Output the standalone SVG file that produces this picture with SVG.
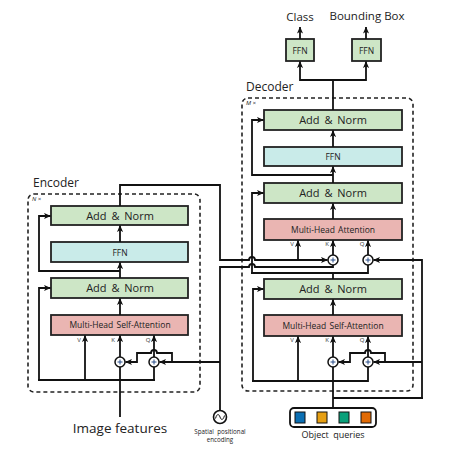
<svg xmlns="http://www.w3.org/2000/svg" width="451" height="457" viewBox="0 0 451 457">
<style>
text{font-family:"Open Sans","Noto Sans","Liberation Sans",sans-serif;fill:#222}
.box{stroke:#222;stroke-width:1.8}
.an{fill:#cde6c6}
.ffn{fill:#c9ebe9}
.att{fill:#eab5b2}
.lbl{font-size:11px;text-anchor:middle;word-spacing:2px}
.sm{font-size:8.5px;text-anchor:middle;word-spacing:1px}
.vkq{font-size:6px;text-anchor:middle;fill:#333}
.dash{fill:none;stroke:#222;stroke-width:1.6;stroke-dasharray:4 3}
.ln{fill:none;stroke:#111;stroke-width:1.8}
.ar{marker-end:url(#a)}
.plus circle{fill:#fff;stroke:#111;stroke-width:1.5}
.plus path{stroke:#2a4f8a;stroke-width:1}
</style>
<defs>
<marker id="a" viewBox="0 0 8 8" refX="7.5" refY="4" markerWidth="7" markerHeight="7" markerUnits="userSpaceOnUse" orient="auto">
<path d="M0,0.5 L8,4 L0,7.5 L2,4 z" fill="#111"/>
</marker>
</defs>

<g id="encoder">
<text x="33" y="187" font-size="12">Encoder</text>
<rect class="dash" x="28" y="194" width="172" height="198" rx="6"/>
<text x="32" y="201" font-size="6" font-style="italic" font-family="Liberation Serif,serif">N ×</text>
</g>
<g id="enc-addnorm2"><rect class="box an" x="51" y="206" width="137" height="19"/><text class="lbl" x="120" y="219.5">Add &amp; Norm</text></g>
<g id="enc-ffn"><rect class="box ffn" x="51" y="242" width="137" height="20"/><text class="sm" x="120" y="255.5" font-size="9.5">FFN</text></g>
<g id="enc-addnorm1"><rect class="box an" x="51" y="278" width="137" height="20"/><text class="lbl" x="120" y="292">Add &amp; Norm</text></g>
<g id="enc-mhsa"><rect class="box att" x="51" y="315" width="137" height="20"/><text class="sm" x="120" y="328">Multi-Head Self-Attention</text>
<text class="vkq" x="79" y="342">V</text><text class="vkq" x="113" y="342">K</text><text class="vkq" x="148" y="342">Q</text></g>
<g id="enc-plus-k" class="plus"><circle cx="120" cy="362" r="5"/><path d="M117.5,362H122.5M120,359.5V364.5"/></g>
<g id="enc-plus-q" class="plus"><circle cx="154" cy="362" r="5"/><path d="M151.5,362H156.5M154,359.5V364.5"/></g>

<g id="decoder">
<text x="246" y="91" font-size="12">Decoder</text>
<rect class="dash" x="242" y="98" width="171" height="293" rx="6"/>
<text x="246" y="105" font-size="6" font-style="italic" font-family="Liberation Serif,serif">M ×</text>
</g>
<g id="dec-addnorm3"><rect class="box an" x="264" y="110" width="138" height="20"/><text class="lbl" x="333" y="124">Add &amp; Norm</text></g>
<g id="dec-ffn"><rect class="box ffn" x="264" y="147" width="138" height="19"/><text class="sm" x="333" y="160" font-size="9.5">FFN</text></g>
<g id="dec-addnorm2"><rect class="box an" x="264" y="183" width="138" height="20"/><text class="lbl" x="333" y="197">Add &amp; Norm</text></g>
<g id="dec-mha"><rect class="box att" x="264" y="219" width="138" height="21"/><text class="sm" x="333" y="232.5">Multi-Head Attention</text>
<text class="vkq" x="292" y="246">V</text><text class="vkq" x="327" y="246">K</text><text class="vkq" x="362" y="246">Q</text></g>
<g id="dec-addnorm1"><rect class="box an" x="264" y="279" width="138" height="20"/><text class="lbl" x="333" y="293">Add &amp; Norm</text></g>
<g id="dec-mhsa"><rect class="box att" x="264" y="315" width="138" height="21"/><text class="sm" x="333" y="328.5">Multi-Head Self-Attention</text>
<text class="vkq" x="292" y="342">V</text><text class="vkq" x="327" y="342">K</text><text class="vkq" x="362" y="342">Q</text></g>
<g id="dec-plus-k2" class="plus"><circle cx="333" cy="260" r="5"/><path d="M330.5,260H335.5M333,257.5V262.5"/></g>
<g id="dec-plus-q2" class="plus"><circle cx="368" cy="260" r="5"/><path d="M365.5,260H370.5M368,257.5V262.5"/></g>
<g id="dec-plus-k1" class="plus"><circle cx="333" cy="362" r="5"/><path d="M330.5,362H335.5M333,359.5V364.5"/></g>
<g id="dec-plus-q1" class="plus"><circle cx="368" cy="362" r="5"/><path d="M365.5,362H370.5M368,359.5V364.5"/></g>

<g id="ffn-class"><rect class="box an" x="286" y="39" width="28" height="22"/><text class="sm" x="300" y="53.5" font-size="9.5">FFN</text>
<text x="300" y="21" font-size="11.5" text-anchor="middle">Class</text></g>
<g id="ffn-bbox"><rect class="box an" x="352" y="39" width="29" height="22"/><text class="sm" x="366.5" y="53.5" font-size="9.5">FFN</text>
<text x="367" y="20" font-size="11.5" text-anchor="middle">Bounding Box</text></g>

<g id="image-features"><text x="120" y="433" font-size="13.5" text-anchor="middle">Image features</text></g>
<g id="pos-enc"><circle cx="220" cy="417" r="6.5" fill="#fff" stroke="#111" stroke-width="1.6"/>
<path d="M215.5,418.5 C217,413 219,414 220,417 C221,420 223,421 224.5,415.5" fill="none" stroke="#111" stroke-width="1"/>
<text x="220" y="434" font-size="6.2" text-anchor="middle" word-spacing="2">Spatial positional</text>
<text x="220" y="442" font-size="6.2" text-anchor="middle">encoding</text></g>
<g id="object-queries"><rect x="290" y="408" width="86" height="19" rx="4" fill="#fff" stroke="#111" stroke-width="1.8"/>
<rect x="295" y="412" width="10" height="11" fill="#0b6fb3" stroke="#111" stroke-width="1"/>
<rect x="317" y="412" width="10" height="11" fill="#e69f13" stroke="#111" stroke-width="1"/>
<rect x="339" y="412" width="10" height="11" fill="#0aa07a" stroke="#111" stroke-width="1"/>
<rect x="361" y="412" width="10" height="11" fill="#e06a05" stroke="#111" stroke-width="1"/>
<text x="333" y="438" font-size="9" text-anchor="middle" word-spacing="2">Object queries</text></g>

<g id="connectors">
<!-- encoder -->
<path class="ln ar" d="M120,315V298.5"/>
<path class="ln ar" d="M120,278V262.5"/>
<path class="ln ar" d="M120,242V225.5"/>
<path class="ln ar" d="M120,271H39V216H50.5"/>
<path class="ln ar" d="M39,380V288H50.5"/>
<path class="ln" d="M38,380H155"/>
<path class="ln ar" d="M85,380V335.5"/>
<path class="ln ar" d="M120,357V335.5"/>
<path class="ln ar" d="M154,357V335.5"/>
<path class="ln" d="M120,417V367"/>
<path class="ln" d="M154,367V381"/>
<path class="ln ar" d="M220,362H159.5"/>
<path class="ln ar" d="M172,362V353H157A3,3 0 0 0 151,353H137V362H125.5"/>
<path class="ln ar" d="M120,206V185H220V260H249A3,3 0 0 1 255,260H327.5"/>
<path class="ln" d="M220,410V267H249A3,3 0 0 1 255,267H333V265"/>
<!-- decoder -->
<path class="ln ar" d="M333,147V130.5"/>
<path class="ln ar" d="M333,183V166.5"/>
<path class="ln ar" d="M333,175H252V120H263.5"/>
<path class="ln ar" d="M333,219V203.5"/>
<path class="ln ar" d="M252,274V193H263.5"/>
<path class="ln" d="M333,279V273"/>
<path class="ln" d="M251,273H368V265"/>
<path class="ln ar" d="M298,260V240.5"/>
<path class="ln ar" d="M333,255V240.5"/>
<path class="ln ar" d="M368,255V240.5"/>
<path class="ln ar" d="M422,398V260H373.5"/>
<path class="ln ar" d="M333,315V299.5"/>
<path class="ln ar" d="M253,381V289H263.5"/>
<path class="ln" d="M252,381H368V367"/>
<path class="ln ar" d="M298,381V336.5"/>
<path class="ln ar" d="M333,357V336.5"/>
<path class="ln ar" d="M368,357V336.5"/>
<path class="ln" d="M333,408V367"/>
<path class="ln" d="M333,398H423"/>
<path class="ln ar" d="M422,362H373.5"/>
<path class="ln ar" d="M385,362V353H371A3,3 0 0 0 365,353H350V362H338.5"/>
<!-- outputs -->
<path class="ln" d="M333,110V80"/>
<path class="ln ar" d="M333,80H300V61.5"/>
<path class="ln ar" d="M333,80H366V61.5"/>
<path class="ln ar" d="M300,39V27"/>
<path class="ln ar" d="M366,39V27"/>
</g>
</svg>
